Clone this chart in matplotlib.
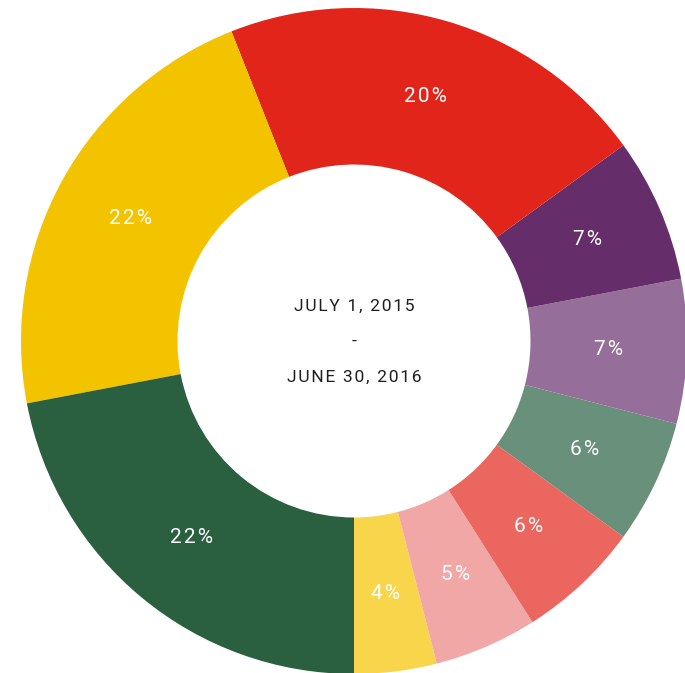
import matplotlib
matplotlib.use('Agg')
import matplotlib.pyplot as plt

# shares, starting at the bottom and going counter-clockwise
values = [4, 5, 6, 6, 7, 7, 21, 22, 22]
labels = ['4%', '5%', '6%', '6%', '7%', '7%', '20%', '22%', '22%']
colors = ['#F8D54A', '#F1A7A5', '#EB665F', '#69907A', '#956E9A',
          '#652D6A', '#E1251B', '#F4C300', '#2A6040']
center_lines = ['JULY 1, 2015', '-', 'JUNE 30, 2016']

plt.rcParams['font.family'] = ['Roboto', 'DejaVu Sans']


def spaced(s, gap):
    # crude letter spacing
    return gap.join(s)


fig = plt.figure(figsize=(6.85, 6.73), dpi=100)
# place the ring so that its radius is ~333 px, centre at (354, 341)
ax = fig.add_axes([21 / 685, -1 / 673, 666 / 685, 666 / 673])

wedges, texts = ax.pie(values, colors=colors, startangle=-90, counterclock=True,
                       radius=1.0, labels=[spaced(l, '\u200a') for l in labels],
                       labeldistance=0.765,
                       wedgeprops=dict(width=0.47, linewidth=0),
                       textprops=dict(color='white', fontsize=15))

for t in texts:
    t.set_horizontalalignment('center')
    t.set_verticalalignment('center')

ys = [0.105, 0.0, -0.108]
for s, y in zip(center_lines, ys):
    ax.text(0, y, spaced(s, '\u200a'), ha='center', va='center', fontsize=12.5,
            color='#1e1e1e')

ax.set_xlim(-1, 1)
ax.set_ylim(-1, 1)
ax.set_aspect('equal')
ax.axis('off')

fig.savefig('out.png', dpi=100)
